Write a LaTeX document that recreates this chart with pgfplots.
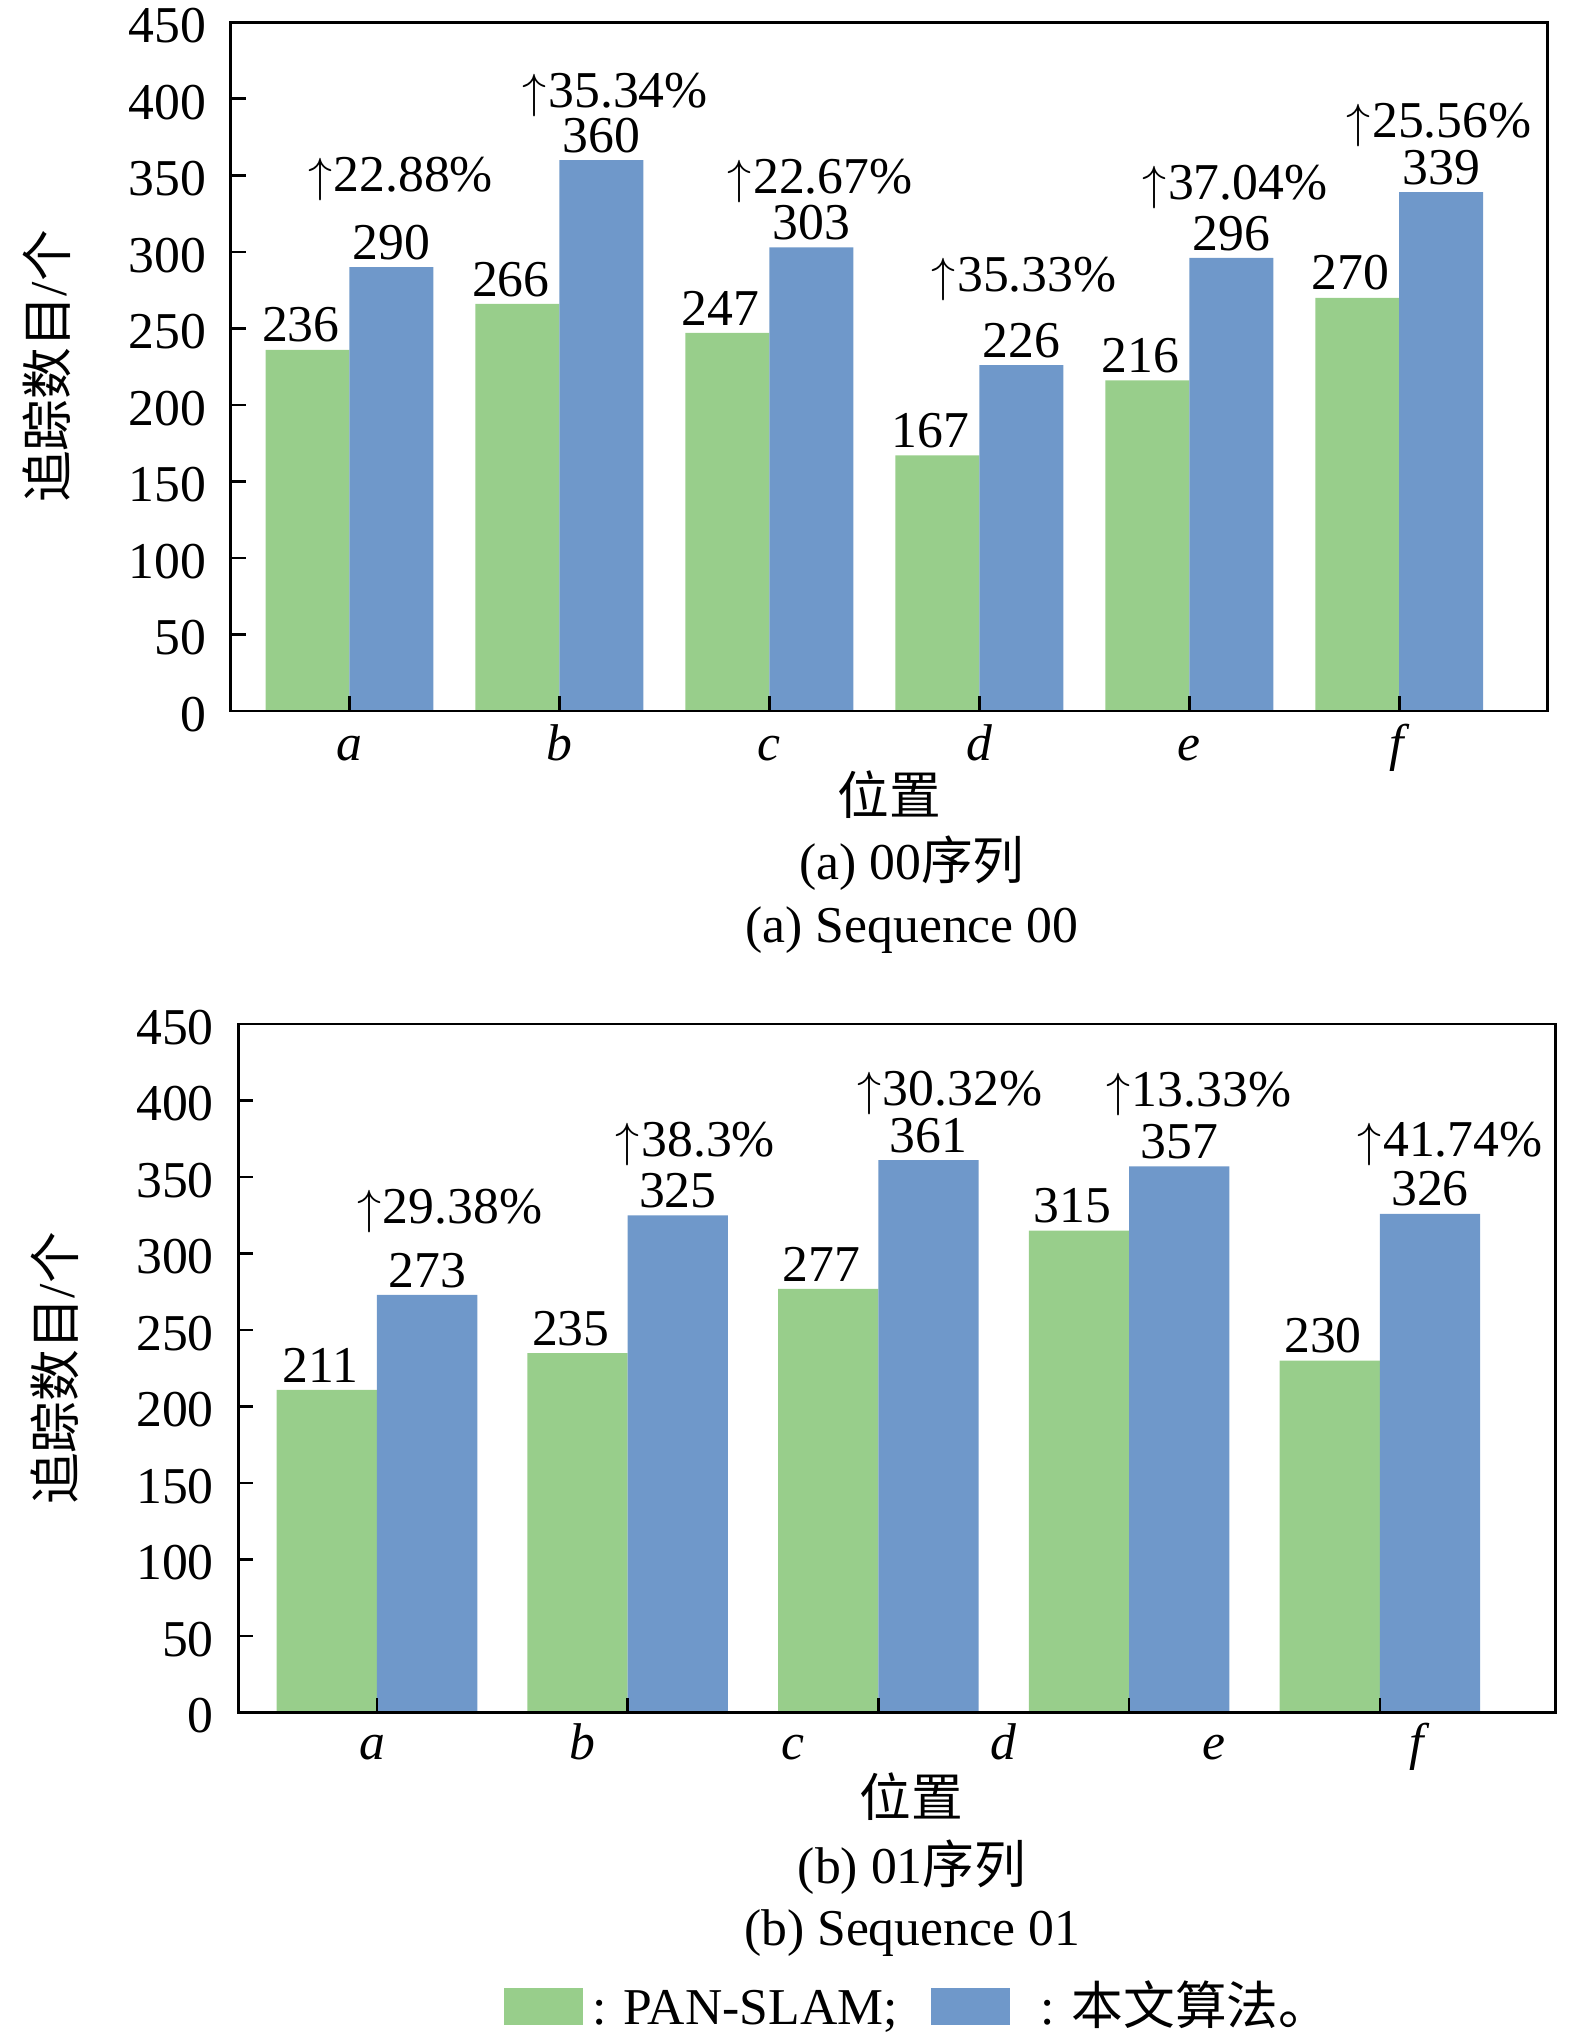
\documentclass[border=0pt]{standalone}
\usepackage{fontspec}
\setmainfont{Liberation Serif}
\newfontfamily\cjk{Noto Sans CJK SC}
\usepackage{pgfplots}
\usepackage{pgfplotstable}
\pgfplotsset{compat=1.18}
\definecolor{pgreen}{RGB}{152,206,139}
\definecolor{pblue}{RGB}{111,152,202}

\pgfplotstableread{
x g b
0 236 290
1 266 360
2 247 303
3 167 226
4 216 296
5 270 339
}\topdata
\pgfplotstableread{
x g b
0 211 273
1 235 325
2 277 361
3 315 357
4 230 326
}\botdata

\newcommand{\up}{$\uparrow$\kern0.5pt}
\tikzset{pct/.style={anchor=base, inner sep=0pt}}

\pgfplotsset{
  base/.style={
    scale only axis, width=395.1pt, height=206.6pt,
    anchor=south west,
    ymin=0, ymax=450, ytick={0,50,...,450},
    axis on top, clip=false,
    axis line style={line width=0.8pt, black},
    tick style={line width=0.8pt, black},
    tick align=inside, xtick pos=bottom, ytick pos=left,
    major tick length=4.5pt,
    /pgf/number format/assume math mode=true,
    yticklabel style={xshift=-2pt, yshift=-1pt},
    xticklabel style={anchor=base, yshift=-15pt},
    every axis y label/.style={at={(axis description cs:0,0.5)}, anchor=center, xshift=-55.3pt, rotate=90},
    every axis x label/.style={at={(axis description cs:0.5,0)}, anchor=center, yshift=-25.2pt},
    ylabel={{\cjk 追踪数目}/{\cjk 个}},
    xlabel={{\cjk 位置}},
  },
  gbar/.style={ybar, bar width=0.4, bar shift=0pt, fill=pgreen, draw=none,
    nodes near coords, nodes near coords style={anchor=south, inner sep=0pt, yshift=2pt, xshift=-2pt, black}},
  bbar/.style={ybar, bar width=0.4, bar shift=0pt, fill=pblue, draw=none,
    nodes near coords, nodes near coords style={anchor=south, inner sep=0pt, yshift=2pt, black}},
}

\begin{document}
\fontsize{15.5}{18.6}\selectfont
\begin{tikzpicture}
\path[use as bounding box] (0,0) rectangle (472.5pt,609.9pt);

\begin{axis}[base, at={(69.2pt,396.6pt)},
  xmin=-0.566, xmax=5.707,
  xtick={0,...,5},
  xticklabels={\textit{a},\textit{b},\textit{c},\textit{d},\textit{e},\textit{f}},
]
\addplot[gbar] table[x expr=\thisrow{x}-0.2, y=g] {\topdata};
\addplot[bbar] table[x expr=\thisrow{x}+0.2, y=b] {\topdata};
\node[pct] at (axis cs:0.243,339.5) {\up22.88\%};
\node[pct] at (axis cs:1.266,394.5) {\up35.34\%};
\node[pct] at (axis cs:2.241,338.4) {\up22.67\%};
\node[pct] at (axis cs:3.213,274) {\up35.33\%};
\node[pct] at (axis cs:4.217,334) {\up37.04\%};
\node[pct] at (axis cs:5.19,375) {\up25.56\%};
\end{axis}

\begin{axis}[base, at={(71.5pt,96.1pt)},
  xmin=-0.553, xmax=4.70,
  xtick={0,...,4}, xticklabels={},
  extra x ticks={-0.02,0.82,1.66,2.50,3.34,4.16},
  extra x tick labels={\textit{a},\textit{b},\textit{c},\textit{d},\textit{e},\textit{f}},
  extra x tick style={major tick length=0pt, xticklabel style={yshift=0.8pt}},
  every axis x label/.style={at={(axis description cs:0.5,0)}, anchor=center, yshift=-25.2pt, xshift=4.4pt},
  every axis y label/.style={at={(axis description cs:0,0.5)}, anchor=center, xshift=-55.1pt, rotate=90},
  legend columns=2,
  legend cell align=left,
  legend style={at={(axis description cs:0.2017,-0.4535)}, anchor=south west,
    draw=none, fill=none, inner sep=0pt, outer sep=0pt,
    cells={anchor=base west},
    nodes={inner sep=0pt, outer sep=0pt, text depth=0pt},
    /tikz/every even column/.append style={column sep=10pt}},
]
\addplot[gbar, forget plot] table[x expr=\thisrow{x}-0.2, y=g] {\botdata};
\addplot[bbar, forget plot] table[x expr=\thisrow{x}+0.2, y=b] {\botdata};
\node[pct] at (axis cs:0.29,319.5) {\up29.38\%};
\node[pct] at (axis cs:1.27,363.5) {\up38.3\%};
\node[pct] at (axis cs:2.284,397) {\up30.32\%};
\node[pct] at (axis cs:3.277,396) {\up13.33\%};
\node[pct] at (axis cs:4.28,363.5) {\up41.74\%};
\addlegendimage{legend image code/.code={\fill[pgreen] (0pt,0pt) rectangle (23.4pt,10.8pt);}}
\addlegendentry{\hspace*{2.7pt}: PAN-SLAM;}
\addlegendimage{legend image code/.code={\fill[pblue] (0pt,0pt) rectangle (23.4pt,10.8pt);}}
\addlegendentry{\hspace*{9pt}: {\cjk 本文算法。}}
\end{axis}

\node[anchor=base] at (273.6pt,345.9pt) {(a) 00{\cjk 序列}};
\node[anchor=base] at (273.6pt,327pt) {(a) Sequence 00};
\node[anchor=base] at (273.6pt,44.7pt) {(b) 01{\cjk 序列}};
\node[anchor=base] at (273.6pt,26.1pt) {(b) Sequence 01};
\end{tikzpicture}
\end{document}
